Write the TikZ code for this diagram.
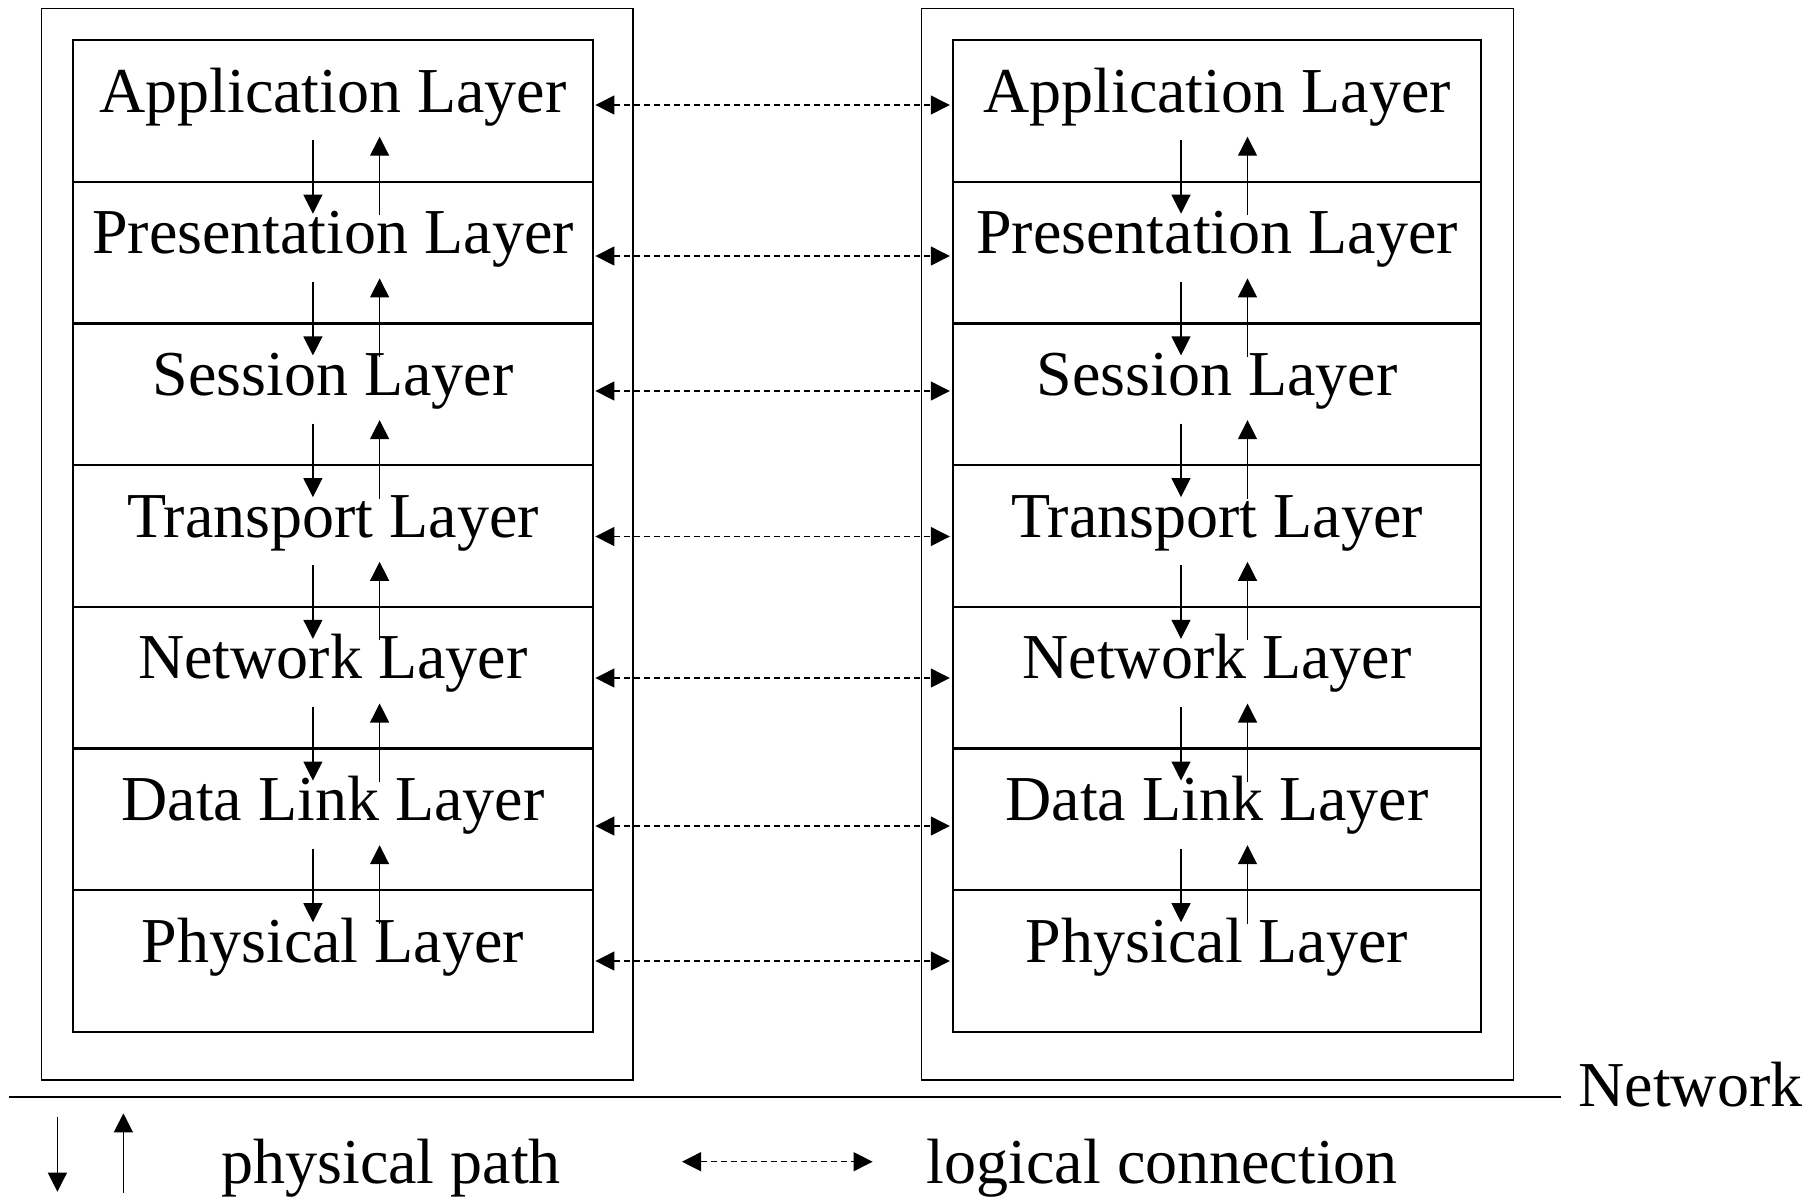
\documentclass[tikz,border=0pt]{standalone}
\usepackage{fontspec}
\setmainfont{Liberation Serif}
\usetikzlibrary{arrows.meta,calc}
\begin{document}
\begin{tikzpicture}[x=0.5pt,y=-0.5pt,
  outerbox/.style={draw,line width=0.6pt,inner sep=0pt,outer sep=0pt},
  layerbox/.style={draw,line width=1.1pt,minimum height=70.85pt,inner sep=0pt,outer sep=0pt},
  layertext/.style={inner sep=0pt,anchor=base,font=\fontsize{32}{38}\selectfont},
  phys/.style={line width=0.6pt,-{Triangle[length=9.5pt,width=9.5pt]}},
  logical/.style={line width=0.6pt,dash pattern=on 3pt off 2pt,{Triangle[length=9.5pt,width=9.5pt]}-{Triangle[length=9.5pt,width=9.5pt]}},
  netline/.style={line width=0.8pt}
]
\useasboundingbox (0,0) rectangle (1809,1196);
% outer host boxes
\node[outerbox,minimum width=295.75pt,minimum height=535.75pt] (LO) at (337.25,544.25) {};
\node[outerbox,minimum width=296pt,minimum height=535.75pt] (RO) at (1217.6,544.25) {};
% layers
\foreach \t [count=\i from 0] in {Application Layer,Presentation Layer,Session Layer,Transport Layer,Network Layer,Data Link Layer,Physical Layer}{
  \node[layerbox,minimum width=260.1pt] (L\i) at (332.9,{40+141.7*(\i+0.5)}) {};
  \node[layertext] (LT\i) at ($(L\i.north)+(0,72)$) {\t};
  \node[layerbox,minimum width=264.2pt] (R\i) at (1217,{40+141.7*(\i+0.5)}) {};
  \node[layertext] (RT\i) at ($(R\i.north)+(0,72)$) {\t};
}
% physical path arrows
\foreach \i/\j in {0/1,1/2,2/3,3/4,4/5,5/6}{
  \draw[phys] ($(L\i.south)+(-20,-41.5)$) -- ($(L\j.north)+(-20,32)$);
  \draw[phys] ($(L\j.north)+(46.7,33.5)$) -- ($(L\i.south)+(46.7,-45)$);
  \draw[phys] ($(R\i.south)+(-36,-41.5)$) -- ($(R\j.north)+(-36,32)$);
  \draw[phys] ($(R\j.north)+(30.5,33.5)$) -- ($(R\i.south)+(30.5,-45)$);
}
% logical connections
\foreach \i/\yy in {0/105,1/256,2/391,3/536.5,4/678,5/826,6/961}{
  \draw[logical,shorten <=1.2pt,shorten >=1.5pt] (L\i.east |- 0,\yy) -- (R\i.west |- 0,\yy);
}
% network
\coordinate (netL) at (9,1096.7);
\coordinate (netR) at (1561,1096.7);
\draw[netline] (netL) -- (netR);
\node[layertext,anchor=base west] (net) at (1578,1106.7) {Network};
% legend
\coordinate (d1) at (57.4,1116.7);
\coordinate (d2) at (57.4,1191.7);
\draw[phys] (d1) -- (d2);
\coordinate (u1) at (123.4,1192.7);
\coordinate (u2) at (123.4,1113.3);
\draw[phys] (u1) -- (u2);
\node[layertext,anchor=base west] (pp) at (221,1183) {physical path};
\coordinate (lg1) at (682,1161.7);
\coordinate (lg2) at (872.6,1161.7);
\draw[logical] (lg1) -- (lg2);
\node[layertext,anchor=base west] (lc) at (926.5,1183) {logical connection};
\end{tikzpicture}
\end{document}
